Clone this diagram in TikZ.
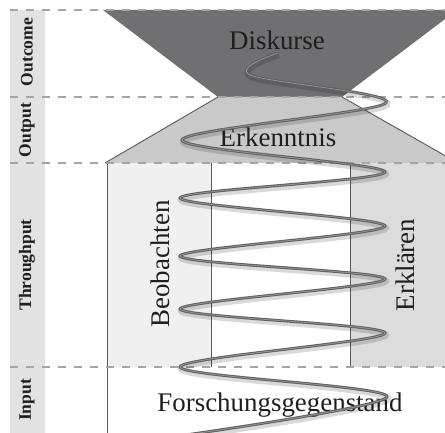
\documentclass[tikz,border=0pt]{standalone}
\usepackage{fontspec}
\setmainfont{Liberation Serif}
\usetikzlibrary{calc}

\definecolor{stripgray}{RGB}{226,226,226}
\definecolor{outcomegray}{RGB}{112,112,114}
\definecolor{outputgray}{RGB}{201,201,201}
\definecolor{leftgray}{RGB}{240,240,240}
\definecolor{rightgray}{RGB}{220,220,220}
\definecolor{levelgray}{RGB}{165,165,165}
\definecolor{inkgray}{RGB}{30,30,30}

\tikzset{
  edge/.style={draw=black!65, line width=0.45pt},
  level/.style={draw=levelgray, line width=0.8pt, dash pattern=on 4bp off 4bp},
  levellabel/.style={rotate=90, font=\fontsize{8.8}{10}\selectfont\bfseries, text=inkgray},
  boxlabel/.style={font=\fontsize{13.5}{16}\selectfont, text=inkgray},
}

\newcommand{\helixcurve}{plot[smooth, tension=0.55] coordinates {
  (150,440) (387,397) (180,367) (385,333) (180,309) (385,279) (180,256)
  (385,226) (180,198) (385,172) (182,140) (386,103) (250,75) (278,53)}}

\begin{document}
\begin{tikzpicture}[x=0.5bp,y=-0.5bp]
\useasboundingbox (0,0) rectangle (445,433);
\clip (0,0) rectangle (445,433);

% Side strip
\fill[stripgray] (10,10) rectangle (45,433);

% Outcome funnel
\fill[outcomegray] (103,10) -- (457,10) -- (342,97) -- (218,97) -- cycle;

% Output funnel
\fill[outputgray] (218,97) -- (342,97) -- (458,163) -- (105,163) -- cycle;
\draw[edge] (218,97) -- (105,163);
\draw[edge] (342,97) -- (458,163);

% Throughput columns
\fill[leftgray] (107,163) rectangle (211,367);
\fill[rightgray] (350,163) rectangle (460,367);
\draw[edge] (107,163) -- (107,433);
\draw[edge] (211,163) -- (211,367);
\draw[edge] (350,163) -- (350,367);

% Level separators
\foreach \y in {10,97,163,367}
  \draw[level] (10,\y) -- (445,\y);

% Level names
\node[levellabel] (outcome) at (27,52) {Outcome};
\node[levellabel] (output) at (27,130) {Output};
\node[levellabel] (throughput) at (27,265) {Throughput};
\node[levellabel] (input) at (27,400) {Input};

% Box texts
\node[boxlabel] (diskurse) at (277,40) {Diskurse};
\node[boxlabel] (erkenntnis) at (278,137) {Erkenntnis};
\node[boxlabel, rotate=90] (beobachten) at (160,264) {Beobachten};
\node[boxlabel, rotate=90] (erklaeren) at (405,265) {Erklären};
\node[boxlabel] (gegenstand) at (280,405) {Forschungsgegenstand};

% Helix
\draw[black, opacity=0.15, line width=3pt, shift={(1,2)}] \helixcurve;
\draw[black!62, line width=1.4pt] \helixcurve;
\draw[white, opacity=0.35, line width=0.35pt] \helixcurve;

\end{tikzpicture}
\end{document}
